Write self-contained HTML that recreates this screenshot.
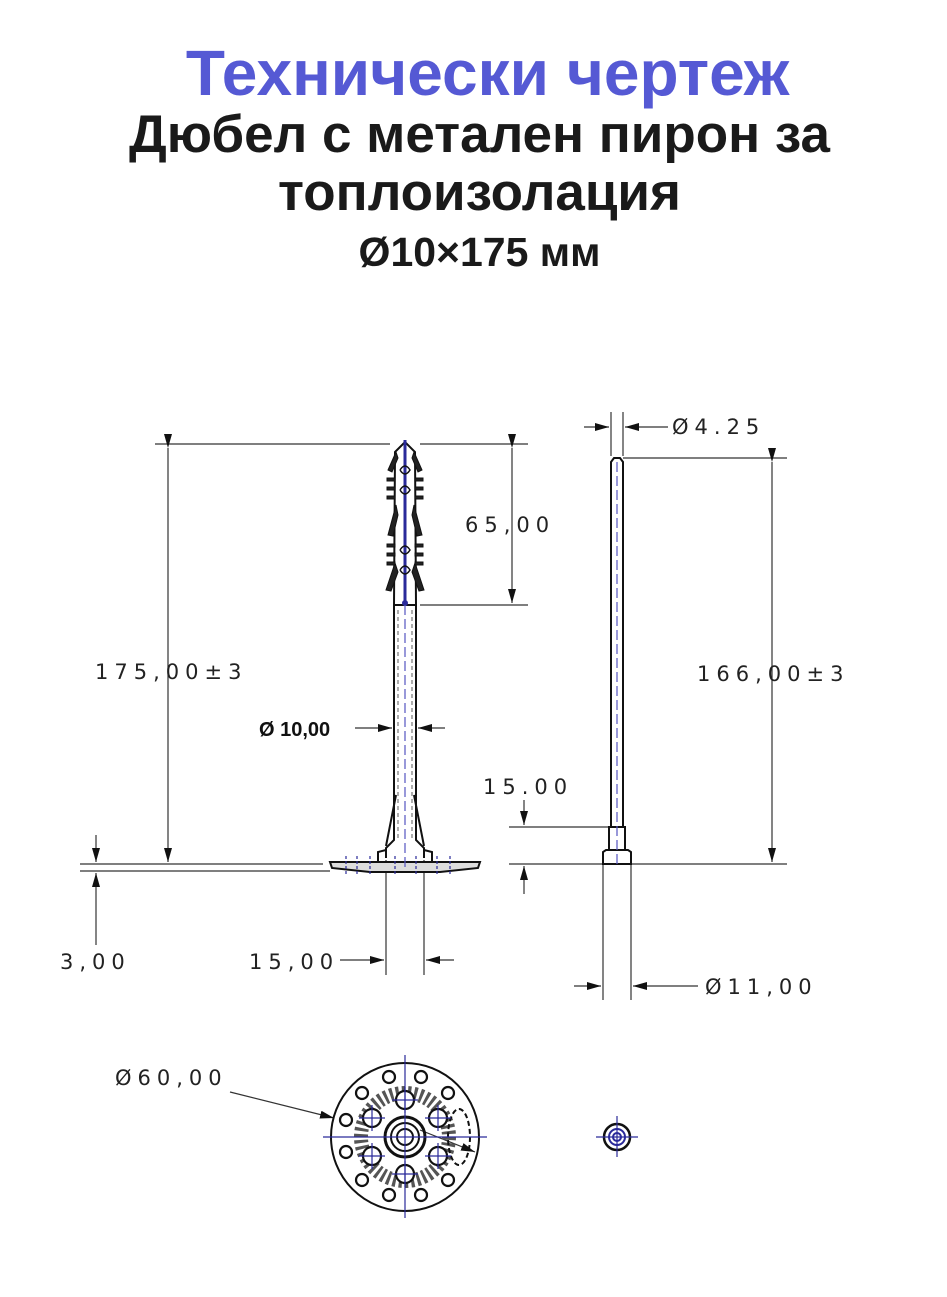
<!DOCTYPE html>
<html><head><meta charset="utf-8"><style>
body{margin:0;background:#fff;width:947px;height:1297px;overflow:hidden;position:relative;font-family:"Liberation Sans",sans-serif}
.t{position:absolute;left:0;width:947px;text-align:center;font-weight:bold;white-space:nowrap}
svg{position:absolute;left:0;top:0}
.d{font-family:"DejaVu Sans","Liberation Sans",sans-serif;font-size:21px;letter-spacing:6px;fill:#222}
</style></head><body>
<div class="t" style="top:36px;font-size:64px;color:#5559d4;left:14px;line-height:74px">Технически чертеж</div>
<div class="t" style="top:106px;font-size:53px;color:#1a1a1a;line-height:58px;left:6px">Дюбел с метален пирон за<br>топлоизолация</div>
<div class="t" style="top:228px;font-size:41px;color:#1a1a1a;left:6px;line-height:48px">Ø10×175 мм</div>
<svg width="947" height="1297" viewBox="0 0 947 1297">
<defs><marker id="a" markerWidth="14" markerHeight="8" refX="14" refY="4" orient="auto" markerUnits="userSpaceOnUse"><path d="M0,0L14,4L0,8z" fill="#111"/></marker></defs>
<g stroke="#333" stroke-width="1.2" fill="none">
<line x1="155" y1="444" x2="390" y2="444"/><line x1="420" y1="444" x2="528" y2="444"/>
<line x1="168" y1="448" x2="168" y2="862" marker-start="url(#a)" marker-end="url(#a)"/>
<line x1="420" y1="605" x2="528" y2="605"/>
<line x1="512" y1="448" x2="512" y2="603" marker-start="url(#a)" marker-end="url(#a)"/>
<line x1="80" y1="864" x2="323" y2="864"/><line x1="80" y1="871" x2="330" y2="871"/>
<line x1="96" y1="835" x2="96" y2="862" marker-end="url(#a)"/>
<line x1="96" y1="945" x2="96" y2="873" marker-end="url(#a)"/>
<line x1="386" y1="860" x2="386" y2="975"/><line x1="424" y1="860" x2="424" y2="975"/>
<line x1="340" y1="960" x2="384" y2="960" marker-end="url(#a)"/>
<line x1="454" y1="960" x2="426" y2="960" marker-end="url(#a)"/>
<line x1="355" y1="728" x2="392" y2="728" marker-end="url(#a)"/>
<line x1="445" y1="728" x2="418" y2="728" marker-end="url(#a)"/>
<g stroke="#111" stroke-width="2">
<path d="M394,605 L394,840 L386,848 L386,858 M416,605 L416,840 L424,848 L424,858"/>
<path d="M396,795 L386,846 M414,795 L424,846"/>
<path d="M386,850 L378,852 L378,862 M424,850 L432,852 L432,862"/>
<path d="M330,862 L480,862 L478,868 L440,872 L370,872 L332,868 z" fill="#ddd"/>
<path d="M395,452 L405,442 L415,452 L416,605 L394,605 z"/>
</g>
<g fill="#222" stroke="#111" stroke-width="1">
<path d="M396,452 L388,470 L392,472 L398,458z M414,452 L422,470 L418,472 L412,458z"/>
<path d="M396,505 L388,535 L393,536 L398,515z M414,505 L422,535 L417,536 L412,515z"/>
<path d="M395,563 L386,590 L391,591 L398,572z M415,563 L424,590 L419,591 L412,572z"/>
<path d="M387,478h8v3h-8zM387,487h8v3h-8zM387,496h8v3h-8zM387,544h8v3h-8zM387,553h8v3h-8zM387,562h8v3h-8zM415,478h8v3h-8zM415,487h8v3h-8zM415,496h8v3h-8zM415,544h8v3h-8zM415,553h8v3h-8zM415,562h8v3h-8z"/>
</g>
<path d="M405,440 L405,605" stroke="#2a2a9a" stroke-width="3"/>
<path d="M400,470 q5,8 10,0 q-5,-8 -10,0 M400,490 q5,8 10,0 q-5,-8 -10,0 M400,550 q5,8 10,0 q-5,-8 -10,0 M400,570 q5,8 10,0 q-5,-8 -10,0" stroke="#111" stroke-width="1.5"/>
<circle cx="405" cy="603" r="3" fill="#2a2a9a" stroke="none"/>
<path d="M405,605 L405,870" stroke="#5555c0" stroke-dasharray="10,4"/>
<path d="M398,610 L398,840 M412,610 L412,840" stroke="#777" stroke-dasharray="4,3"/>
<path d="M346,856v18M357,856v18M370,856v18M395,856v18M416,856v18M437,856v18M450,856v18" stroke="#2a2a9a" stroke-dasharray="3,2"/>
<line x1="611" y1="412" x2="611" y2="456"/><line x1="623" y1="412" x2="623" y2="456"/>
<line x1="584" y1="427" x2="609" y2="427" marker-end="url(#a)"/>
<line x1="668" y1="427" x2="625" y2="427" marker-end="url(#a)"/>
<line x1="623" y1="458" x2="787" y2="458"/>
<line x1="772" y1="462" x2="772" y2="862" marker-start="url(#a)" marker-end="url(#a)"/>
<line x1="509" y1="827" x2="608" y2="827"/><line x1="509" y1="864" x2="787" y2="864"/>
<line x1="524" y1="800" x2="524" y2="825" marker-end="url(#a)"/>
<line x1="524" y1="894" x2="524" y2="866" marker-end="url(#a)"/>
<line x1="603" y1="864" x2="603" y2="1000"/><line x1="631" y1="864" x2="631" y2="1000"/>
<line x1="574" y1="986" x2="601" y2="986" marker-end="url(#a)"/>
<line x1="698" y1="986" x2="633" y2="986" marker-end="url(#a)"/>
<g stroke="#111" stroke-width="2">
<path d="M611,827 L611,462 L614,458 L620,458 L623,462 L623,827"/>
<rect x="609" y="827" width="16" height="23"/>
<path d="M603,864 L603,852 L606,850 L628,850 L631,852 L631,864 z"/>
</g>
<line x1="617" y1="462" x2="617" y2="866" stroke="#5555c0" stroke-dasharray="10,4"/>
<line x1="230" y1="1092" x2="334" y2="1118" marker-end="url(#a)"/>
<line x1="420" y1="1130" x2="475" y2="1152" marker-end="url(#a)"/>
</g>
<g fill="none" stroke="#111" stroke-width="2">
<circle cx="405" cy="1137" r="74"/>
<circle cx="405" cy="1137" r="44" stroke="#555" stroke-width="14" stroke-dasharray="3,3"/>
<circle cx="405" cy="1137" r="20" stroke-width="3"/>
<circle cx="405" cy="1137" r="14"/><circle cx="405" cy="1137" r="8"/>
<ellipse cx="459" cy="1137" rx="11" ry="28" stroke-dasharray="5,3"/>
<g stroke="#111" fill="#fff" stroke-width="2.2">
<circle cx="405" cy="1100" r="9"/><circle cx="405" cy="1174" r="9"/>
<circle cx="372" cy="1118" r="9"/><circle cx="438" cy="1118" r="9"/>
<circle cx="372" cy="1156" r="9"/><circle cx="438" cy="1156" r="9"/>
<circle cx="389" cy="1077" r="6"/><circle cx="421" cy="1077" r="6"/>
<circle cx="362" cy="1093" r="6"/><circle cx="448" cy="1093" r="6"/>
<circle cx="346" cy="1120" r="6"/><circle cx="346" cy="1152" r="6"/>
<circle cx="362" cy="1180" r="6"/><circle cx="448" cy="1180" r="6"/>
<circle cx="389" cy="1195" r="6"/><circle cx="421" cy="1195" r="6"/>
</g>
<circle cx="617" cy="1137" r="13" stroke-width="2.5"/>
<circle cx="617" cy="1137" r="8" stroke="#2a2a9a"/><circle cx="617" cy="1137" r="4" stroke="#2a2a9a"/>
</g>
<g stroke="#2a2a9a" stroke-width="1.2">
<line x1="323" y1="1137" x2="487" y2="1137"/><line x1="405" y1="1055" x2="405" y2="1218"/>
<line x1="596" y1="1137" x2="638" y2="1137"/><line x1="617" y1="1116" x2="617" y2="1157"/>
<path d="M392,1100h26M405,1087v26M392,1174h26M405,1161v26M359,1118h26M372,1105v26M425,1118h26M438,1105v26M359,1156h26M372,1143v26M425,1156h26M438,1143v26"/>
</g>
<text class="d" x="95" y="679">175,00±3</text>
<text class="d" x="465" y="532">65,00</text>
<text x="259" y="736" font-family="Liberation Sans" font-weight="bold" font-size="20" fill="#111">Ø 10,00</text>
<text class="d" x="60" y="969">3,00</text>
<text class="d" x="249" y="969">15,00</text>
<text class="d" x="672" y="434">Ø4.25</text>
<text class="d" x="697" y="681">166,00±3</text>
<text class="d" x="483" y="794">15.00</text>
<text class="d" x="705" y="994">Ø11,00</text>
<text class="d" x="115" y="1085">Ø60,00</text>
</svg>
</body></html>
